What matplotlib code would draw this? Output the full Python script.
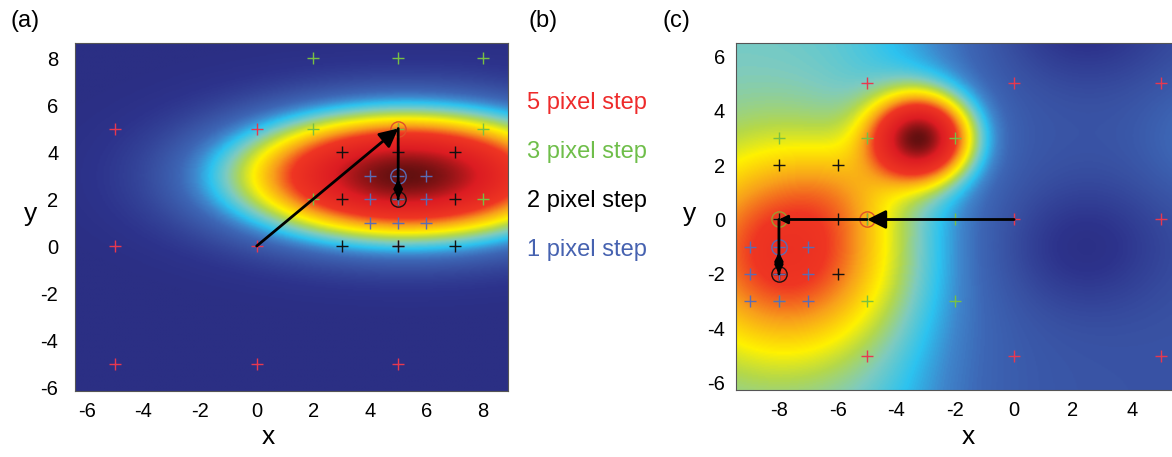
import numpy as np
import matplotlib
matplotlib.use("Agg")
import matplotlib.pyplot as plt
from matplotlib.colors import LinearSegmentedColormap

plt.rcParams['font.family'] = ['Liberation Sans', 'DejaVu Sans']
plt.rcParams['axes.unicode_minus'] = False

# ---------------- data ----------------
# panel (a): single elliptical peak (center x, center y, sigma x, sigma y)
a_peak = [5.3, 3.0, 4.0, 1.8]

# panel (c): gaussian components (cx, cy, sx, sy, amplitude)
c_comp_x = [-3.2, -7.6, -5.8, 2.3, 2.3, 6.5]
c_comp_y = [3.0, -1.2, 1.2, -1.0, 7.2, 3.0]
c_comp_sx = [1.12, 2.6, 1.3, 1.9, 2.0, 1.5]
c_comp_sy = [1.05, 2.6, 1.2, 1.6, 1.5, 1.5]
c_comp_amp = [0.8, 0.38, 0.05, -0.085, -0.085, 0.06]

# search grids (a)
a_red_x = [-5, 0, 5, -5, 0, 5, -5, 0, 5]
a_red_y = [5, 5, 5, 0, 0, 0, -5, -5, -5]
a_green_x = [2, 5, 8, 2, 5, 8, 2, 5, 8]
a_green_y = [8, 8, 8, 5, 5, 5, 2, 2, 2]
a_black_x = [3, 5, 7, 3, 5, 7, 3, 5, 7]
a_black_y = [4, 4, 4, 2, 2, 2, 0, 0, 0]
a_blue_x = [4, 5, 6, 4, 5, 6, 4, 5, 6]
a_blue_y = [3, 3, 3, 2, 2, 2, 1, 1, 1]
a_path_x = [0, 5, 5, 5]
a_path_y = [0, 5, 2, 3]

# search grids (c)
c_red_x = [-5, 0, 5, -5, 0, 5, -5, 0, 5]
c_red_y = [5, 5, 5, 0, 0, 0, -5, -5, -5]
c_green_x = [-8, -5, -2, -8, -5, -2, -8, -5, -2]
c_green_y = [3, 3, 3, 0, 0, 0, -3, -3, -3]
c_black_x = [-10, -8, -6, -10, -8, -6, -10, -8, -6]
c_black_y = [2, 2, 2, 0, 0, 0, -2, -2, -2]
c_blue_x = [-9, -8, -7, -9, -8, -7, -9, -8, -7]
c_blue_y = [-1, -1, -1, -2, -2, -2, -3, -3, -3]
c_path_x = [0, -5, -8, -8, -8]
c_path_y = [0, 0, 0, -2, -1]

legend_labels = ["5 pixel step", "3 pixel step", "2 pixel step", "1 pixel step"]

# ---------------- styles ----------------
RED = '#e8384f'
GREEN = '#78c043'
BLACK = '#111111'
BLUE = '#5a6cb5'
TXT_RED = '#ee2b2b'
TXT_GREEN = '#6fbe4a'
TXT_BLUE = '#4662b0'

cmap = LinearSegmentedColormap.from_list('jetlike', [
    (0.00, '#2b2f84'),
    (0.02, '#2d338c'),
    (0.08, '#3850a2'),
    (0.13, '#3d66b5'),
    (0.17, '#3f86cc'),
    (0.22, '#2cc3f0'),
    (0.28, '#7ecbc0'),
    (0.34, '#b4d84a'),
    (0.40, '#fff200'),
    (0.50, '#f8a01b'),
    (0.60, '#ef3623'),
    (0.82, '#dc1c22'),
    (1.00, '#641010'),
])

W, H = 1172, 457
fig = plt.figure(figsize=(W / 100, H / 100), dpi=100)

def px_axes(l, t, r, b):
    return fig.add_axes([l / W, 1 - b / H, (r - l) / W, (b - t) / H])

TICK_FS = 14.5
LAB_FS = 19

def style_axes(ax, ypad=10, xpad=8):
    ax.tick_params(length=0, labelsize=TICK_FS)
    ax.tick_params(axis='y', pad=ypad)
    ax.tick_params(axis='x', pad=xpad)
    for s in ax.spines.values():
        s.set_color('#555555')
        s.set_linewidth(0.8)

def draw_grid(ax, xs, ys, color, ms=9, lw=1.0):
    ax.plot(xs, ys, linestyle='none', marker='+', color=color, ms=ms, mew=lw, zorder=3)

def arrow(ax, x0, y0, x1, y1, big=True):
    ax.annotate('', xy=(x1, y1), xytext=(x0, y0),
                arrowprops=dict(arrowstyle='-|>', color='black', lw=2,
                                mutation_scale=28 if big else 12,
                                shrinkA=0, shrinkB=0), zorder=5)

# ---------------- panel (a) ----------------
axa = px_axes(75, 43, 508, 391)
xa = np.linspace(-6.42, 8.88, 300)
ya = np.linspace(-6.17, 8.64, 300)
XA, YA = np.meshgrid(xa, ya)
cx, cy, sx, sy = a_peak
FA = np.exp(-((XA - cx) ** 2 / (2 * sx ** 2) + (YA - cy) ** 2 / (2 * sy ** 2)))
axa.imshow(FA, extent=[xa[0], xa[-1], ya[0], ya[-1]], origin='lower', cmap=cmap,
           vmin=0, vmax=1, aspect='auto', interpolation='bilinear')
draw_grid(axa, a_red_x, a_red_y, RED)
draw_grid(axa, a_green_x, a_green_y, GREEN)
draw_grid(axa, a_black_x, a_black_y, BLACK)
draw_grid(axa, a_blue_x, a_blue_y, BLUE)
axa.plot([a_path_x[1]], [a_path_y[1]], 'o', mfc='none', mec='#e0502a', ms=11, mew=1.0, zorder=4)
axa.plot([a_path_x[3]], [a_path_y[3]], 'o', mfc='none', mec=BLUE, ms=11, mew=1.0, zorder=4)
axa.plot([a_path_x[2]], [a_path_y[2]], 'o', mfc='none', mec='#1a1010', ms=11, mew=1.0, zorder=4)
arrow(axa, a_path_x[0], a_path_y[0], a_path_x[1], a_path_y[1], big=True)
arrow(axa, a_path_x[1], a_path_y[1], a_path_x[2], a_path_y[2], big=False)
arrow(axa, a_path_x[2], a_path_y[2], a_path_x[3], a_path_y[3] - 0.15, big=False)
axa.set_xlim(xa[0], xa[-1])
axa.set_ylim(ya[0], ya[-1])
axa.set_xticks([-6, -4, -2, 0, 2, 4, 6, 8])
axa.set_yticks([-6, -4, -2, 0, 2, 4, 6, 8])
style_axes(axa, ypad=12, xpad=8)
axa.set_xlabel('x', fontsize=LAB_FS, va='baseline', ha='center')
axa.xaxis.set_label_coords((268 - 75) / 433, (391 - 444) / 348)
axa.set_ylabel('y', fontsize=LAB_FS, rotation=0, va='baseline', ha='center')
axa.yaxis.set_label_coords((31 - 75) / 433, (391 - 221) / 348)

# ---------------- panel (b) ----------------
txt_colors = [TXT_RED, TXT_GREEN, 'black', TXT_BLUE]
for i, (lab, col) in enumerate(zip(legend_labels, txt_colors)):
    fig.text(527 / W, 1 - (103 + 49 * i) / H, lab, color=col, fontsize=17,
             ha='left', va='center')

# ---------------- panel (c) ----------------
CL, CR, CT, CB = 736, 1200, 43, 390
axc = px_axes(CL, CT, CR, CB)
xlo, xhi = -9.46, -9.46 + (CR - CL) / 29.4
xc = np.linspace(xlo, xhi, 400)
yc = np.linspace(-6.26, 6.48, 300)
XC, YC = np.meshgrid(xc, yc)
FC = 0.09 + 0.19 / (1 + np.exp((XC + 3.0) / 1.5))
for gx, gy, gsx, gsy, amp in zip(c_comp_x, c_comp_y, c_comp_sx, c_comp_sy, c_comp_amp):
    FC = FC + amp * np.exp(-((XC - gx) ** 2 / (2 * gsx ** 2) + (YC - gy) ** 2 / (2 * gsy ** 2)))
axc.imshow(FC, extent=[xlo, xhi, yc[0], yc[-1]], origin='lower', cmap=cmap,
           vmin=0, vmax=max(FC.max(), 1.0), aspect='auto', interpolation='bilinear')
draw_grid(axc, c_red_x, c_red_y, RED)
draw_grid(axc, c_green_x, c_green_y, GREEN)
draw_grid(axc, c_black_x, c_black_y, BLACK)
draw_grid(axc, c_blue_x, c_blue_y, BLUE)
axc.plot([c_path_x[1]], [c_path_y[1]], 'o', mfc='none', mec='#e0502a', ms=11, mew=1.0, zorder=4)
axc.plot([c_path_x[2]], [c_path_y[2]], 'o', mfc='none', mec='#9a9a30', ms=11, mew=1.0, zorder=4)
axc.plot([c_path_x[4]], [c_path_y[4]], 'o', mfc='none', mec=BLUE, ms=11, mew=1.0, zorder=4)
axc.plot([c_path_x[3]], [c_path_y[3]], 'o', mfc='none', mec='#1a1010', ms=11, mew=1.0, zorder=4)
arrow(axc, c_path_x[0], c_path_y[0], c_path_x[1], c_path_y[1], big=True)
arrow(axc, c_path_x[1], c_path_y[1], c_path_x[2], c_path_y[2], big=False)
arrow(axc, c_path_x[2], c_path_y[2], c_path_x[3], c_path_y[3], big=False)
arrow(axc, c_path_x[3], c_path_y[3], c_path_x[4], c_path_y[4] - 0.2, big=False)
axc.set_xlim(xlo, xhi)
axc.set_ylim(yc[0], yc[-1])
axc.set_xticks([-8, -6, -4, -2, 0, 2, 4])
axc.set_yticks([-6, -4, -2, 0, 2, 4, 6])
style_axes(axc, ypad=8, xpad=8)
axc.set_xlabel('x', fontsize=LAB_FS, va='baseline', ha='center')
axc.xaxis.set_label_coords((968 - CL) / (CR - CL), (CB - 444) / (CB - CT))
axc.set_ylabel('y', fontsize=LAB_FS, rotation=0, va='baseline', ha='center')
axc.yaxis.set_label_coords((690 - CL) / (CR - CL), (CB - 221) / (CB - CT))

# panel labels
fig.text(10 / W, 1 - 21 / H, '(a)', fontsize=17, ha='left', va='center')
fig.text(529 / W, 1 - 21 / H, '(b)', fontsize=17, ha='left', va='center')
fig.text(663 / W, 1 - 21 / H, '(c)', fontsize=17, ha='left', va='center')

fig.savefig('out.png', dpi=100)
